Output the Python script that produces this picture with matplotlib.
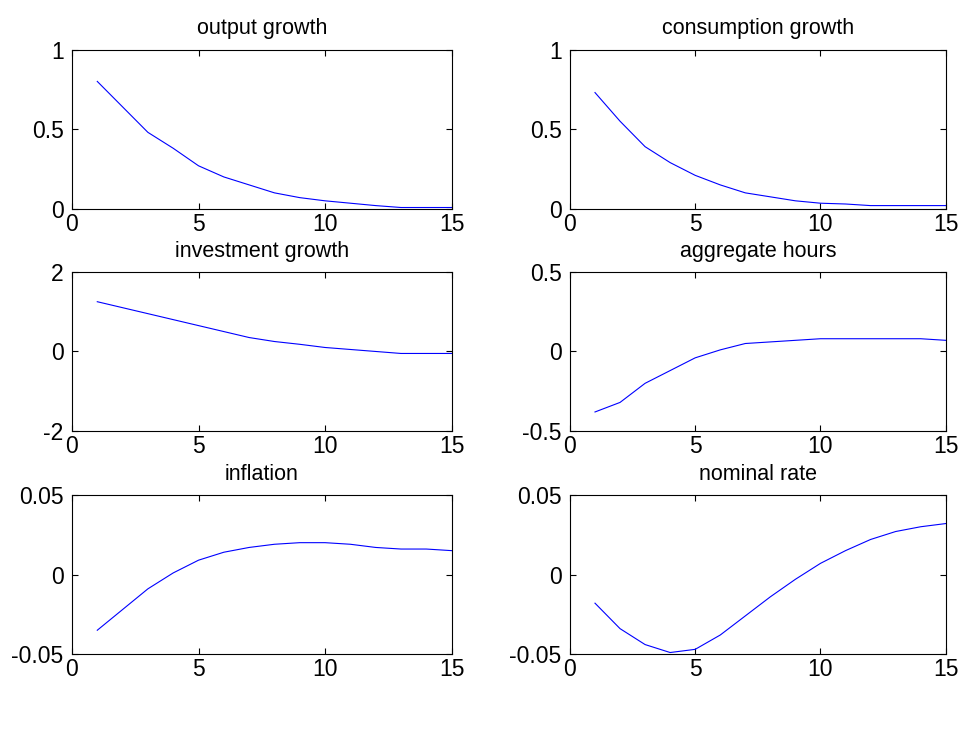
import numpy as np
import matplotlib.pyplot as plt

plt.rcParams['font.family'] = ['Liberation Sans', 'DejaVu Sans']
plt.rcParams['font.size'] = 16

periods = np.arange(1, 16)
titles = ["output growth", "consumption growth", "investment growth",
          "aggregate hours", "inflation", "nominal rate"]
output_growth = [0.8, 0.64, 0.48, 0.38, 0.27, 0.2, 0.15, 0.1, 0.07, 0.05, 0.035, 0.02, 0.008, 0.008, 0.008]
consumption_growth = [0.73, 0.55, 0.39, 0.29, 0.21, 0.15, 0.1, 0.075, 0.05, 0.035, 0.03, 0.02, 0.02, 0.02, 0.02]
investment_growth = [1.25, 1.1, 0.95, 0.8, 0.65, 0.5, 0.35, 0.25, 0.18, 0.1, 0.05, 0.0, -0.05, -0.05, -0.05]
aggregate_hours = [-0.38, -0.32, -0.2, -0.12, -0.04, 0.01, 0.05, 0.06, 0.07, 0.08, 0.08, 0.08, 0.08, 0.08, 0.07]
inflation = [-0.035, -0.022, -0.009, 0.001, 0.009, 0.014, 0.017, 0.019, 0.020, 0.020, 0.019, 0.017, 0.016, 0.016, 0.015]
nominal_rate = [-0.018, -0.034, -0.044, -0.049, -0.047, -0.038, -0.026, -0.014, -0.003, 0.007, 0.015, 0.022, 0.027, 0.030, 0.032]
series = [output_growth, consumption_growth, investment_growth,
          aggregate_hours, inflation, nominal_rate]
ylims = [(0, 1), (0, 1), (-2, 2), (-0.5, 0.5), (-0.05, 0.05), (-0.05, 0.05)]
yticks = [[0, 0.5, 1], [0, 0.5, 1], [-2, 0, 2], [-0.5, 0, 0.5],
          [-0.05, 0, 0.05], [-0.05, 0, 0.05]]
yticklabels = [["0", "0.5", "1"], ["0", "0.5", "1"], ["-2", "0", "2"],
               ["-0.5", "0", "0.5"], ["-0.05", "0", "0.05"], ["-0.05", "0", "0.05"]]

fig = plt.figure(figsize=(9.66, 7.51), dpi=100)
lefts = [0.0745, 0.590]
widths = [0.393, 0.389]
bottoms = [0.722, 0.426, 0.129]
for i in range(6):
    r, c = divmod(i, 2)
    ax = fig.add_axes([lefts[c], bottoms[r], widths[c], 0.212])
    ax.plot(periods, series[i], color="blue", linewidth=0.8)
    ax.set_xlim(0, 15)
    ax.set_ylim(*ylims[i])
    ax.set_xticks([0, 5, 10, 15])
    ax.set_yticks(yticks[i])
    ax.set_yticklabels(yticklabels[i])
    ax.tick_params(direction="in", length=4, top=True, right=True,
                   labelsize=16.5)
    ax.tick_params(axis="y", pad=6)
    ax.tick_params(axis="x", pad=3)
    ax.set_title(titles[i], fontsize=15.5, pad=11)

fig.savefig("out.png", dpi=100)
